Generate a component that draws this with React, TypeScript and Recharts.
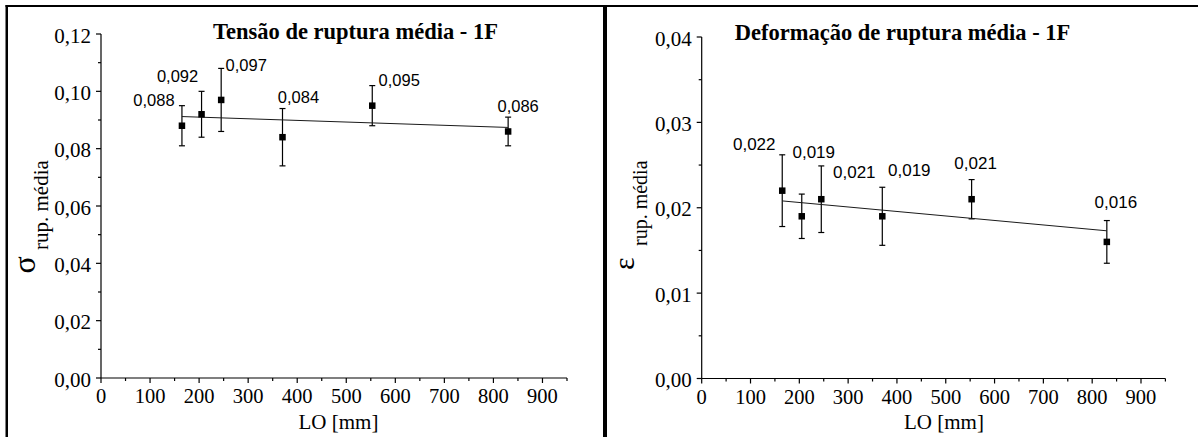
import { ComposedChart, Scatter, ErrorBar, XAxis, YAxis } from 'recharts'

// LO [mm] of the six test series
const lengths = [165, 205, 245, 370, 553, 830]

const stressMean = [0.088, 0.092, 0.097, 0.084, 0.095, 0.086]
const stressErr = [0.007, 0.008, 0.011, 0.01, 0.007, 0.005]
const stressFit = [0.0912, 0.0874]

const strainMean = [0.022, 0.019, 0.021, 0.019, 0.021, 0.016]
const strainErr = [0.0042, 0.0026, 0.0039, 0.0034, 0.0023, 0.0025]
const strainFit = [0.0208, 0.0173]

const fitRange = [165, 830]

const xTicks = [0, 50, 100, 150, 200, 250, 300, 350, 400, 450, 500, 550, 600, 650, 700, 750, 800, 850, 900, 950]
const stressTicks = [0, 0.01, 0.02, 0.03, 0.04, 0.05, 0.06, 0.07, 0.08, 0.09, 0.1, 0.11, 0.12]
const strainTicks = [0, 0.005, 0.01, 0.015, 0.02, 0.025, 0.03, 0.035, 0.04]

// where each value label sits, in px from its marker
const stressLabelPos = [[-28, -26], [-24, -38], [25, -35], [16, -40], [27, -26], [10, -25]]
const strainLabelPos = [[-28, -47], [12, -64], [33, -27], [27, -46], [4, -36], [9, -40]]

const SERIF = '"Liberation Serif", "Times New Roman", serif'
const SANS = '"Liberation Sans", Arial, sans-serif'

const fmt = (v: number, d: number) => v.toFixed(d).replace('.', ',')

function XTick({ x, y, payload }: any) {
  const major = payload.value % 100 === 0
  return (
    <g>
      <line x1={x} y1={y} x2={x} y2={y + (major ? 5 : 3)} stroke="#000" strokeWidth={1.2} />
      {major && (
        <text x={x} y={y + 25} textAnchor="middle" fontFamily={SERIF} fontSize={20.5} fill="#000">
          {payload.value}
        </text>
      )}
    </g>
  )
}

function YTick({ x, y, payload, isMajor }: any) {
  const major = isMajor(payload.value)
  return (
    <g>
      <line x1={x} y1={y} x2={x - (major ? 5 : 3)} y2={y} stroke="#000" strokeWidth={1.2} />
      {major && (
        <text x={x - 10} y={y + 8.5} textAnchor="end" fontFamily={SERIF} fontSize={21} fill="#000">
          {fmt(payload.value, 2)}
        </text>
      )}
    </g>
  )
}

function Marker({ cx, cy, payload, labelPos, labelSize }: any) {
  const i = lengths.indexOf(payload.x)
  const [dx, dy] = labelPos[i] || [0, -20]
  return (
    <g>
      <rect x={cx - 3.25} y={cy - 3.25} width={6.5} height={6.5} fill="#000" />
      <text x={cx + dx} y={cy + dy} dy="0.36em" textAnchor="middle" fontFamily={SANS} fontSize={labelSize} fill="#000">
        {fmt(payload.y, 3)}
      </text>
    </g>
  )
}

interface PanelProps {
  left: number
  width: number
  top: number
  right: number
  yWidth: number
  xHeight: number
  yMax: number
  yTicks: number[]
  isMajor: (v: number) => boolean
  mean: number[]
  err: number[]
  fit: number[]
  labelPos: number[][]
  labelSize: number
}

function Panel(p: PanelProps) {
  const points = lengths.map((x, i) => ({ x, y: p.mean[i], err: p.err[i] }))
  const line = fitRange.map((x, i) => ({ x, y: p.fit[i] }))
  return (
    <div style={{ position: 'absolute', left: p.left, top: 0 }}>
      <ComposedChart width={p.width} height={437} margin={{ top: p.top, right: p.right, bottom: 0, left: 0 }}>
        <XAxis
          type="number"
          dataKey="x"
          domain={[0, 950]}
          ticks={xTicks}
          interval={0}
          height={p.xHeight}
          tickSize={0}
          tickMargin={0}
          tickLine={false}
          axisLine={{ stroke: '#000', strokeWidth: 1.2 }}
          tick={(t: any) => <XTick {...t} />}
        />
        <YAxis
          type="number"
          dataKey="y"
          domain={[0, p.yMax]}
          ticks={p.yTicks}
          interval={0}
          width={p.yWidth}
          tickSize={0}
          tickMargin={0}
          tickLine={false}
          axisLine={{ stroke: '#000', strokeWidth: 1.2 }}
          tick={(t: any) => <YTick {...t} isMajor={p.isMajor} />}
        />
        <Scatter
          data={line}
          line={{ stroke: '#1a1a1a', strokeWidth: 1 }}
          shape={() => <g />}
          legendType="none"
          isAnimationActive={false}
        />
        <Scatter
          data={points}
          shape={(s: any) => <Marker {...s} labelPos={p.labelPos} labelSize={p.labelSize} />}
          legendType="none"
          isAnimationActive={false}
        >
          <ErrorBar dataKey="err" direction="y" width={3} stroke="#000" strokeWidth={1.2} isAnimationActive={false} />
        </Scatter>
      </ComposedChart>
    </div>
  )
}

export default function App() {
  return (
    <div style={{ position: 'absolute', left: 0, top: 0, width: 1198, height: 437, background: '#fff' }}>
      <Panel
        left={0}
        width={600}
        top={34}
        right={33}
        yWidth={101}
        xHeight={59}
        yMax={0.12}
        yTicks={stressTicks}
        isMajor={(v) => Math.round(v * 100) % 2 === 0}
        mean={stressMean}
        err={stressErr}
        fit={stressFit}
        labelPos={stressLabelPos}
        labelSize={16.5}
      />
      <Panel
        left={600}
        width={598}
        top={37}
        right={32.6}
        yWidth={101.7}
        xHeight={58.5}
        yMax={0.04}
        yTicks={strainTicks}
        isMajor={(v) => Math.round(v * 1000) % 10 === 0}
        mean={strainMean}
        err={strainErr}
        fit={strainFit}
        labelPos={strainLabelPos}
        labelSize={17}
      />

      <svg width={1198} height={437} style={{ position: 'absolute', left: 0, top: 0, pointerEvents: 'none' }}>
        {/* table frame */}
        <rect x={5.5} y={5} width={1192.5} height={2} fill="#000" />
        <rect x={5.5} y={5} width={2.5} height={432} fill="#000" />
        <rect x={603} y={5} width={4} height={432} fill="#000" />

        <text x={355.5} y={38.5} textAnchor="middle" fontFamily={SERIF} fontWeight="bold" fontSize={22.5} fill="#000">
          Tensão de ruptura média - 1F
        </text>
        <text x={902.5} y={40} textAnchor="middle" fontFamily={SERIF} fontWeight="bold" fontSize={22.5} fill="#000">
          Deformação de ruptura média - 1F
        </text>

        <text x={338.5} y={429} textAnchor="middle" fontFamily={SERIF} fontSize={21} fill="#000">LO [mm]</text>
        <text x={944} y={429} textAnchor="middle" fontFamily={SERIF} fontSize={21} fill="#000">LO [mm]</text>

        <text transform="rotate(-90)" fontFamily={SERIF} fill="#000">
          <tspan x={-273.5} y={35} fontSize={32}>σ</tspan>
          <tspan x={-250} y={47.5} fontSize={21}>rup. média</tspan>
        </text>
        <text transform="rotate(-90)" fontFamily={SERIF} fill="#000">
          <tspan x={-270} y={633.5} fontSize={30}>ε</tspan>
          <tspan x={-246} y={646.5} fontSize={20}>rup. média</tspan>
        </text>
      </svg>
    </div>
  )
}
